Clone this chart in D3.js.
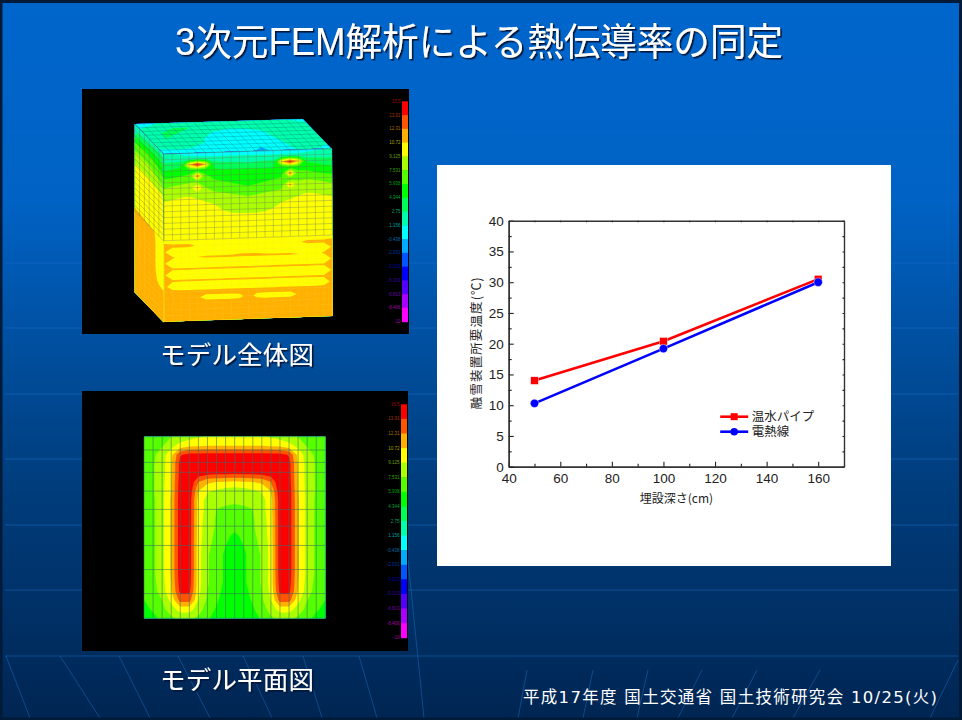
<!DOCTYPE html>
<html>
<head>
<meta charset="utf-8">
<script src="https://d3js.org/d3.v7.min.js"></script>
<style>
	html, body { margin: 0; padding: 0; background: #001a38; }
	text { font-family: "Noto Sans CJK JP", "Noto Sans", sans-serif; }
	text.num { font-family: "Liberation Sans", "Noto Sans CJK JP", sans-serif; }
	text.foot { font-family: "DejaVu Sans", "Noto Sans CJK JP", sans-serif; }
</style>
</head>
<body>
<div id="chart-area"></div>
<script>
// chart values
var depthValues = [50, 100, 160];
var hotWaterPipe = [14, 20.4, 30.5];
var heatingWire = [10.3, 19.2, 30];
var seriesNames = ["温水パイプ", "電熱線"];
var xMajor = [40, 60, 80, 100, 120, 140, 160];
var xMinor = [50, 70, 90, 110, 130, 150, 170];
var yMajor = [0, 5, 10, 15, 20, 25, 30, 35, 40];
var yMinor = [2.5, 7.5, 12.5, 17.5, 22.5, 27.5, 32.5, 37.5];

// FEM colour legend, top to bottom
var bandColors = ["#ff0000", "#ff5500", "#ffb000", "#ffff00", "#aaff00", "#55ff00", "#00ff00", "#00ff55",
	"#00ffaa", "#00ffff", "#00aaff", "#0055ff", "#0000ff", "#5500ff", "#aa00ff", "#ff00ff"];
var bandLabels = ["15.5", "13.91", "12.31", "10.72", "9.125", "7.531", "5.938", "4.344", "2.75",
	"1.156", "-0.438", "-2.031", "-3.625", "-5.219", "-6.813", "-8.406", "-10"];

// FEM fields, read off as legend band numbers (0 = magenta .. 15 = red)
// plan view: left half of each row, the right half mirrors it
var planHalf = [
	[10.2, 10.4, 10.7, 11.0, 11.3, 11.6, 11.9, 12.1, 12.3, 12.4, 12.4],
	[10.3, 10.5, 10.9, 11.7, 12.4, 12.8, 12.9, 13.0, 13.0, 13.0, 13.0],
	[10.4, 10.8, 11.5, 12.7, 14.9, 15.4, 15.4, 15.4, 15.4, 15.4, 15.4],
	[10.5, 10.9, 11.6, 12.9, 15.4, 16.0, 16.0, 16.0, 16.0, 16.0, 16.0],
	[10.5, 10.9, 11.6, 12.9, 15.4, 16.0, 15.7, 15.4, 15.3, 15.3, 15.3],
	[10.5, 10.9, 11.6, 13.0, 15.5, 16.0, 14.0, 13.2, 13.0, 12.9, 12.8],
	[10.5, 10.9, 11.7, 13.0, 15.6, 15.8, 13.0, 12.1, 11.8, 11.5, 11.4],
	[10.4, 10.8, 11.7, 13.1, 15.6, 15.6, 12.6, 11.6, 11.4, 11.3, 11.2],
	[10.4, 10.8, 11.7, 13.1, 15.6, 15.6, 12.6, 11.6, 11.0, 10.8, 10.7],
	[10.4, 10.8, 11.7, 13.1, 15.6, 15.6, 12.5, 11.5, 10.9, 10.6, 10.5],
	[10.4, 10.8, 11.7, 13.1, 15.6, 15.6, 12.5, 11.4, 10.9, 10.4, 10.2],
	[10.4, 10.8, 11.7, 13.1, 15.6, 15.6, 12.5, 11.3, 10.8, 10.2, 9.8],
	[10.4, 10.8, 11.7, 13.1, 15.6, 15.6, 12.4, 11.2, 10.7, 10.0, 9.6],
	[10.4, 10.8, 11.7, 13.1, 15.6, 15.6, 12.4, 11.1, 10.5, 9.8, 9.5],
	[10.4, 10.8, 11.7, 13.1, 15.6, 15.6, 12.4, 11.1, 10.5, 9.8, 9.5],
	[10.4, 10.8, 11.7, 13.1, 15.6, 15.6, 12.4, 11.1, 10.5, 9.8, 9.5],
	[10.3, 10.7, 11.6, 13.0, 15.5, 15.5, 12.4, 11.1, 10.5, 9.8, 9.5],
	[10.2, 10.6, 11.5, 12.9, 15.3, 15.3, 12.3, 11.0, 10.3, 9.7, 9.4],
	[10.0, 10.3, 11.0, 12.3, 14.4, 14.4, 12.0, 10.8, 10.1, 9.6, 9.3],
	[9.8, 10.1, 10.7, 11.6, 12.4, 12.4, 11.5, 10.5, 9.9, 9.5, 9.3],
	[9.5, 9.8, 10.2, 10.8, 11.3, 11.3, 10.8, 10.1, 9.7, 9.4, 9.2]
];
var planRowLines = [0, 1.47, 2.83, 3.93, 5.99, 8.01, 9.85, 11.98, 14.63, 17.28, 20];

// block, front face: left half of each row
var frontHalf = [
	[7.2, 7.0, 6.8, 6.6, 6.4, 6.2, 6.0, 6.0, 6.0, 6.0, 6.0],
	[7.6, 7.5, 7.5, 7.4, 7.4, 7.5, 7.5, 7.5, 7.5, 7.5, 7.5],
	[8.4, 8.4, 8.6, 8.8, 8.8, 8.6, 8.4, 8.2, 8.2, 8.1, 8.0],
	[9.0, 9.2, 9.4, 9.6, 9.6, 9.4, 9.2, 9.0, 9.0, 9.0, 9.0],
	[9.7, 9.8, 10.0, 10.2, 10.3, 10.2, 9.6, 9.4, 9.2, 9.2, 9.1],
	[10.4, 10.6, 10.8, 10.9, 10.8, 10.5, 10.2, 10.0, 9.8, 9.6, 9.6],
	[11.0, 11.2, 11.3, 11.4, 11.3, 11.0, 10.6, 10.5, 10.4, 10.2, 10.0],
	[11.5, 11.7, 11.8, 11.9, 11.8, 11.5, 11.1, 11.0, 10.9, 10.8, 10.7],
	[11.9, 12.0, 12.1, 12.1, 12.0, 11.9, 11.6, 11.4, 11.3, 11.2, 11.1],
	[12.2, 12.3, 12.3, 12.3, 12.2, 12.1, 12.0, 11.8, 11.6, 11.5, 11.5],
	[12.4, 12.4, 12.4, 12.4, 12.4, 12.4, 12.1, 12.0, 11.9, 11.8, 11.8],
	[12.4, 12.4, 12.4, 12.4, 12.4, 12.4, 12.4, 12.2, 12.1, 12.1, 12.1],
	[12.4, 12.4, 12.4, 12.4, 12.4, 12.4, 12.4, 12.4, 12.4, 12.4, 12.4],
	[12.4, 12.4, 12.4, 12.4, 12.4, 12.4, 12.4, 12.4, 12.4, 12.4, 12.4],
	[12.4, 12.4, 12.4, 12.4, 12.4, 12.4, 12.4, 12.4, 12.4, 12.4, 12.4],
	[12.5, 12.5, 12.5, 12.5, 12.5, 12.5, 12.5, 12.5, 12.5, 12.5, 12.5],
	[13.4, 13.2, 13.2, 13.2, 12.9, 12.6, 12.5, 12.5, 12.5, 12.5, 12.5],
	[13.1, 12.4, 12.4, 12.4, 12.4, 12.4, 12.4, 12.5, 12.6, 12.8, 12.8],
	[13.3, 13.1, 12.8, 12.8, 13.0, 13.1, 13.1, 13.1, 13.1, 13.1, 13.1],
	[13.1, 12.4, 12.4, 12.4, 12.4, 12.4, 12.4, 12.4, 12.4, 12.4, 12.4],
	[13.3, 13.1, 13.1, 13.1, 13.1, 13.1, 13.1, 13.1, 13.1, 13.1, 13.1],
	[13.1, 12.4, 12.4, 12.4, 12.4, 12.4, 12.4, 12.4, 12.4, 12.4, 12.4],
	[13.3, 13.1, 13.1, 13.1, 13.1, 13.1, 13.1, 13.1, 13.1, 13.1, 13.1],
	[13.2, 12.6, 12.4, 12.4, 12.4, 12.4, 12.4, 12.4, 12.4, 12.4, 12.4],
	[13.4, 13.3, 13.3, 13.3, 13.3, 13.3, 13.3, 13.3, 13.3, 13.3, 13.3],
	[13.4, 13.4, 13.3, 13.3, 13.1, 12.7, 12.7, 12.7, 12.7, 12.8, 13.3],
	[13.4, 13.4, 13.4, 13.4, 13.4, 13.4, 13.4, 13.4, 13.4, 13.4, 13.4],
	[13.4, 13.4, 13.4, 13.4, 13.4, 13.4, 13.4, 13.4, 13.4, 13.4, 13.4],
	[13.4, 13.4, 13.4, 13.4, 13.4, 13.4, 13.4, 13.4, 13.4, 13.4, 13.4],
	[13.4, 13.4, 13.4, 13.4, 13.4, 13.4, 13.4, 13.4, 13.4, 13.4, 13.4]
];
// pipe spots on the front face: [row, column, band]
var frontHot = [[2, 4, 15.6], [2, 3, 13.2], [2, 5, 13.2], [4, 4, 14.2], [6, 4, 13.2],
	[2, 15, 15.6], [2, 14, 13.2], [2, 16, 13.2], [4, 15, 14], [6, 15, 13.3]];

// block, left face: back edge to front edge
var leftRows = [
	[7.0, 7.0, 7.2, 7.2, 7.4, 7.4, 7.4],
	[8.0, 8.4, 8.6, 8.8, 8.8, 8.8, 8.6],
	[10.0, 10.0, 10.2, 10.2, 10.0, 9.8, 9.4],
	[11.0, 11.0, 11.0, 11.0, 10.8, 10.6, 10.2],
	[11.8, 11.8, 11.8, 11.8, 11.6, 11.4, 11.0],
	[12.2, 12.2, 12.2, 12.2, 12.2, 12.2, 12.0],
	[12.3, 12.3, 12.3, 12.3, 12.3, 12.3, 12.3],
	[12.4, 12.4, 12.4, 12.4, 12.4, 12.4, 12.4],
	[12.4, 12.4, 12.4, 12.4, 12.4, 12.4, 12.4],
	[12.7, 12.6, 12.5, 12.5, 12.4, 12.4, 12.4],
	[13.4, 13.4, 13.3, 13.2, 13.1, 12.5, 12.4],
	[13.4, 13.4, 13.4, 13.3, 13.2, 12.5, 12.4],
	[13.4, 13.4, 13.4, 13.3, 13.2, 12.5, 12.4],
	[13.4, 13.4, 13.4, 13.3, 13.2, 12.5, 12.4],
	[13.4, 13.4, 13.4, 13.3, 13.2, 12.6, 12.4],
	[13.4, 13.4, 13.4, 13.4, 13.3, 12.8, 12.6],
	[13.4, 13.4, 13.4, 13.4, 13.4, 13.4, 13.4],
	[13.4, 13.4, 13.4, 13.4, 13.4, 13.4, 13.4],
	[13.4, 13.4, 13.4, 13.4, 13.4, 13.4, 13.4],
	[13.4, 13.4, 13.4, 13.4, 13.4, 13.4, 13.4]
];

// block, top face: back edge to front edge
var topRows = [
	[6.2, 6.8, 7.5, 7.8, 7.8, 7.8, 7.6, 7.4, 7.4, 7.0, 6.6],
	[7.0, 7.5, 8.0, 8.0, 7.8, 7.4, 7.4, 7.6, 8.0, 7.8, 7.2],
	[7.5, 8.0, 8.0, 7.6, 7.0, 6.6, 6.6, 7.0, 7.8, 8.0, 7.5],
	[7.5, 8.0, 7.8, 7.2, 6.6, 6.2, 6.2, 6.8, 7.6, 8.0, 7.6],
	[7.2, 7.6, 7.4, 7.0, 6.4, 6.0, 6.0, 6.6, 7.4, 7.8, 7.4],
	[7.0, 7.2, 7.0, 6.6, 6.3, 6.1, 6.1, 6.4, 7.2, 7.4, 7.0],
	[6.4, 6.2, 6.2, 6.6, 6.6, 6.2, 5.7, 6.4, 7.0, 7.0, 6.6]
];

var title = "3次元FEM解析による熱伝導率の同定";
var caption1 = "モデル全体図";
var caption2 = "モデル平面図";
var footer = "平成17年度 国土交通省 国土技術研究会 10/25(火)";

var completeWidth = 962;
var completeHeight = 720;

var svg = d3.select("#chart-area")
	.append("svg")
		.attr("width", completeWidth)
		.attr("height", completeHeight)
		.style("display", "block");

var defs = svg.append("defs");
var bg = defs.append("linearGradient").attr("id", "slideBg")
	.attr("x1", 0).attr("y1", 0).attr("x2", 0).attr("y2", 1);
bg.append("stop").attr("offset", "0%").attr("stop-color", "#0066cc");
bg.append("stop").attr("offset", "28%").attr("stop-color", "#0062c4");
bg.append("stop").attr("offset", "65%").attr("stop-color", "#003f80");
bg.append("stop").attr("offset", "100%").attr("stop-color", "#002552");

var shadow = defs.append("filter").attr("id", "txtShadow")
	.attr("x", "-5%").attr("y", "-20%").attr("width", "110%").attr("height", "150%");
shadow.append("feDropShadow").attr("dx", 1.6).attr("dy", 1.6).attr("stdDeviation", 0.3)
	.attr("flood-color", "#00183a");
defs.append("filter").attr("id", "soft")
	.append("feGaussianBlur").attr("stdDeviation", 0.45);

// background
svg.append("rect").attr("width", completeWidth).attr("height", completeHeight).attr("fill", "url(#slideBg)");

var deco = svg.append("g").attr("fill", "none").attr("stroke", "#1f74cc");
deco.selectAll("line.h").data([132, 197, 263, 328, 394, 459, 525, 590, 656]).join("line")
	.attr("class", "h")
	.attr("x1", 5).attr("x2", 958)
	.attr("y1", function(d) { return d; }).attr("y2", function(d) { return d; })
	.attr("stroke-width", 1.2)
	.attr("stroke-opacity", function(d) { return d < 250 ? 0.12 : 0.45; });
// the faint globe lines at the bottom of the slide
var decoLines = [[6, 656, 30, 718], [60, 656, 100, 718], [119, 656, 150, 718], [178, 656, 210, 718],
	[243, 656, 272, 718], [303, 656, 322, 718], [359, 656, 377, 718], [408, 560, 424, 718],
	[527, 670, 518, 718], [593, 670, 583, 718], [648, 670, 637, 718], [702, 670, 678, 718],
	[757, 670, 732, 718], [820, 670, 793, 718], [958, 660, 930, 718]];
deco.selectAll("line.c").data(decoLines).join("line")
	.attr("class", "c")
	.attr("x1", function(d) { return d[0]; }).attr("y1", function(d) { return d[1]; })
	.attr("x2", function(d) { return d[2]; }).attr("y2", function(d) { return d[3]; })
	.attr("stroke-width", 1)
	.attr("stroke-opacity", 0.45);

// slide frame
svg.append("rect").attr("x", 1).attr("y", 1.5).attr("width", 959.5).attr("height", 717.5)
	.attr("fill", "none").attr("stroke", "#001a38").attr("stroke-width", 3);

// helpers for the FEM pictures
function mirror(rows) {
	return rows.map(function(r) {
		return r.concat(r.slice(0, -1).reverse());
	});
}

// face is [origin, end of u, end of v] in page pixels
function facePoint(face, u, v) {
	return [
		face[0][0] + u * (face[1][0] - face[0][0]) + v * (face[2][0] - face[0][0]),
		face[0][1] + u * (face[1][1] - face[0][1]) + v * (face[2][1] - face[0][1])
	];
}

function drawField(g, rows, face) {
	var m = rows.length, n = rows[0].length;
	var contours = d3.contours()
		.size([n, m])
		.thresholds(d3.range(0, 16))(d3.merge(rows));
	var proj = d3.geoTransform({
		point: function(x, y) {
			var u = Math.max(0, Math.min(1, (x - 0.5) / (n - 1)));
			var v = Math.max(0, Math.min(1, (y - 0.5) / (m - 1)));
			var p = facePoint(face, u, v);
			this.stream.point(p[0], p[1]);
		}
	});
	g.append("g").selectAll("path").data(contours).join("path")
		.attr("d", d3.geoPath(proj))
		.attr("fill", function(d) { return bandColors[15 - d.value]; });
}

function drawMesh(g, face, us, vs, color, width) {
	var line = d3.line();
	var uLines = us.map(function(u) { return [facePoint(face, u, vs[0]), facePoint(face, u, vs[vs.length - 1])]; });
	var vLines = vs.map(function(v) { return [facePoint(face, us[0], v), facePoint(face, us[us.length - 1], v)]; });
	g.append("g").selectAll("path").data(uLines.concat(vLines)).join("path")
		.attr("d", line)
		.attr("fill", "none")
		.attr("stroke", color)
		.attr("stroke-width", width);
}

function drawLegend(g, x, width, top, bottom) {
	var yBand = d3.scaleBand().domain(d3.range(16)).range([top, bottom]);
	g.selectAll("rect.band").data(bandColors).join("rect")
		.attr("class", "band")
		.attr("x", x).attr("width", width)
		.attr("y", function(d, i) { return yBand(i); })
		.attr("height", yBand.bandwidth() + 0.5)
		.attr("fill", function(d) { return d; });
	g.selectAll("text.lab").data(bandLabels).join("text")
		.attr("class", "lab num")
		.attr("x", x - 1.5)
		.attr("y", function(d, i) { return top + i * yBand.bandwidth() + 1.5; })
		.attr("text-anchor", "end")
		.attr("font-size", 4.5)
		.attr("fill", function(d, i) { return d3.color(bandColors[Math.min(i, 15)]).darker(1.3); })
		.text(function(d) { return d; });
}

// upper picture: the whole block
svg.append("rect").attr("x", 82).attr("y", 89).attr("width", 327).attr("height", 245).attr("fill", "#000");
var block = svg.append("g").attr("filter", "url(#soft)");

var topFace = [[134.7, 124], [302.7, 119], [163.7, 154]];
var leftFace = [[134.7, 124], [163.7, 154], [134.7, 292.3]];
var frontFace = [[163.7, 154], [332, 148.3], [164.3, 321.7]];

var frontRows = mirror(frontHalf);
frontHot.forEach(function(h) { frontRows[h[0]][h[1]] = h[2]; });

drawField(block, topRows, topFace);
drawField(block, leftRows, leftFace);
drawField(block, frontRows, frontFace);

var rowCount = frontRows.length - 1;
drawMesh(block, topFace, d3.range(0, 21).map(function(i) { return i / 20; }),
	d3.range(0, 9).map(function(i) { return i / 8; }), "rgba(20,110,120,0.5)", 0.6);
// grey mesh on the upper layers, faint brick lines on the lower ones
drawMesh(block, frontFace, d3.range(0, 21).map(function(i) { return i / 20; }),
	d3.range(0, 16).map(function(i) { return i / rowCount; }), "rgba(110,120,100,0.6)", 0.6);
drawMesh(block, frontFace, d3.range(0, 21).map(function(i) { return i / 20; }),
	d3.range(15, rowCount + 1).map(function(i) { return i / rowCount; }), "rgba(255,215,60,0.35)", 0.5);
drawMesh(block, leftFace, d3.range(0, 7).map(function(i) { return i / 6; }),
	d3.range(0, 16).map(function(i) { return i / rowCount; }), "rgba(110,110,90,0.6)", 0.6);
drawMesh(block, leftFace, d3.range(0, 7).map(function(i) { return i / 6; }),
	d3.range(15, rowCount + 1).map(function(i) { return i / rowCount; }), "rgba(255,215,60,0.35)", 0.5);

drawLegend(svg.append("g"), 402, 6, 101.3, 321.7);

// lower picture: plan view
svg.append("rect").attr("x", 82).attr("y", 391).attr("width", 326).attr("height", 260).attr("fill", "#000");
var plan = svg.append("g").attr("filter", "url(#soft)");
var planFace = [[144, 436.7], [325.3, 436.7], [144, 618.3]];
drawField(plan, mirror(planHalf), planFace);
drawMesh(plan, planFace, d3.range(0, 21).map(function(i) { return i / 20; }),
	planRowLines.map(function(r) { return r / 20; }), "rgba(60,110,100,0.7)", 0.8);

drawLegend(svg.append("g"), 401, 6, 404.3, 637.7);

// white panel with the line chart
svg.append("rect").attr("x", 437).attr("y", 165).attr("width", 454).attr("height", 401).attr("fill", "#fff");

var margin = { left: 508.7, top: 220.7 };
var width = 335.3;
var height = 246;
var g = svg.append("g").attr("transform", "translate(" + margin.left + "," + margin.top + ")");

// Scales
var x = d3.scaleLinear().domain([40, 170]).range([0, width]);
var y = d3.scaleLinear().domain([0, 40]).range([height, 0]);

// Axis
function styleAxis(sel) {
	sel.selectAll(".domain").attr("stroke", "#333").attr("stroke-width", 1.4);
	sel.selectAll(".tick line").attr("stroke", "#222").attr("stroke-width", 1.1);
	sel.selectAll(".tick text").attr("class", "num").attr("font-size", 13.5).attr("fill", "#222");
	sel.attr("font-family", null);
}

var noLabel = function() { return ""; };
g.append("g").attr("transform", "translate(0," + height + ")")
	.call(d3.axisBottom(x).tickValues(xMajor).tickSizeInner(-5).tickSizeOuter(0).tickPadding(7)
		.tickFormat(function(d) { return d; }))
	.call(styleAxis);
g.append("g").attr("transform", "translate(0," + height + ")")
	.call(d3.axisBottom(x).tickValues(xMinor).tickSizeInner(-3).tickSizeOuter(0).tickFormat(noLabel))
	.call(styleAxis);
g.append("g")
	.call(d3.axisLeft(y).tickValues(yMajor).tickSizeInner(-5).tickSizeOuter(0).tickPadding(5)
		.tickFormat(function(d) { return d; }))
	.call(styleAxis);
g.append("g")
	.call(d3.axisLeft(y).tickValues(yMinor).tickSizeInner(-3).tickSizeOuter(0).tickFormat(noLabel))
	.call(styleAxis);
g.append("g")
	.call(d3.axisTop(x).tickValues(xMajor.concat(xMinor)).tickSizeInner(-1.5).tickSizeOuter(0).tickFormat(noLabel))
	.call(styleAxis);
g.append("g").attr("transform", "translate(" + width + ",0)")
	.call(d3.axisRight(y).tickValues(yMajor.concat(yMinor)).tickSizeInner(-1.5).tickSizeOuter(0).tickFormat(noLabel))
	.call(styleAxis);

// Labels
g.append("text")
	.attr("x", x(100) + 13)
	.attr("y", height + 36)
	.attr("text-anchor", "middle")
	.attr("font-size", 12)
	.attr("fill", "#222")
	.text("埋設深さ(cm)");
g.append("text")
	.attr("transform", "rotate(-90)")
	.attr("x", -(height / 2) + 0.5)
	.attr("y", -28)
	.attr("text-anchor", "middle")
	.attr("font-size", 12.5)
	.attr("textLength", 132)
	.attr("fill", "#222")
	.text("融雪装置所要温度(℃)");

// Lines
var line = d3.line()
	.x(function(d, i) { return x(depthValues[i]); })
	.y(function(d) { return y(d); });

g.append("path").datum(hotWaterPipe)
	.attr("d", line).attr("fill", "none").attr("stroke", "#ff0000").attr("stroke-width", 2.6);
g.selectAll("rect.pipe").data(hotWaterPipe).join("rect")
	.attr("class", "pipe")
	.attr("x", function(d, i) { return x(depthValues[i]) - 3.8; })
	.attr("y", function(d) { return y(d) - 3.8; })
	.attr("width", 7.6).attr("height", 7.6)
	.attr("fill", "#ff0000").attr("stroke", "#fff").attr("stroke-width", 0.4);

g.append("path").datum(heatingWire)
	.attr("d", line).attr("fill", "none").attr("stroke", "#0000ff").attr("stroke-width", 2.6);
g.selectAll("circle.wire").data(heatingWire).join("circle")
	.attr("class", "wire")
	.attr("cx", function(d, i) { return x(depthValues[i]); })
	.attr("cy", function(d) { return y(d); })
	.attr("r", 4.2)
	.attr("fill", "#0000ff").attr("stroke", "#fff").attr("stroke-width", 0.4);

// Legend
var legendColors = ["#ff0000", "#0000ff"];
var legend = g.append("g");
seriesNames.forEach(function(name, i) {
	var ly = 196 + i * 15;
	legend.append("line")
		.attr("x1", 211.5).attr("x2", 239.5).attr("y1", ly).attr("y2", ly)
		.attr("stroke", legendColors[i]).attr("stroke-width", 2.6);
	if (i == 0) {
		legend.append("rect").attr("x", 222).attr("y", ly - 3.5).attr("width", 7).attr("height", 7)
			.attr("fill", legendColors[i]);
	} else {
		legend.append("circle").attr("cx", 225.5).attr("cy", ly).attr("r", 3.8)
			.attr("fill", legendColors[i]);
	}
	legend.append("text")
		.attr("class", "num")
		.attr("x", 243).attr("y", ly + 4.5)
		.attr("font-size", 12.5).attr("fill", "#222")
		.text(name);
});

// slide texts
svg.append("text")
	.attr("class", "num")
	.attr("x", 479).attr("y", 55)
	.attr("text-anchor", "middle")
	.attr("font-size", 38)
	.attr("textLength", 608)
	.attr("lengthAdjust", "spacingAndGlyphs")
	.attr("fill", "#fff")
	.attr("filter", "url(#txtShadow)")
	.text(title);
svg.append("text")
	.attr("x", 237).attr("y", 364)
	.attr("text-anchor", "middle")
	.attr("font-size", 25.5)
	.attr("textLength", 154)
	.attr("fill", "#fff")
	.attr("filter", "url(#txtShadow)")
	.text(caption1);
svg.append("text")
	.attr("x", 237).attr("y", 689)
	.attr("text-anchor", "middle")
	.attr("font-size", 25.5)
	.attr("textLength", 154)
	.attr("fill", "#fff")
	.attr("filter", "url(#txtShadow)")
	.text(caption2);
svg.append("text")
	.attr("class", "foot")
	.attr("x", 523).attr("y", 703)
	.attr("font-size", 16.5)
	.attr("textLength", 414)
	.attr("fill", "#fff")
	.text(footer);
</script>
</body>
</html>
